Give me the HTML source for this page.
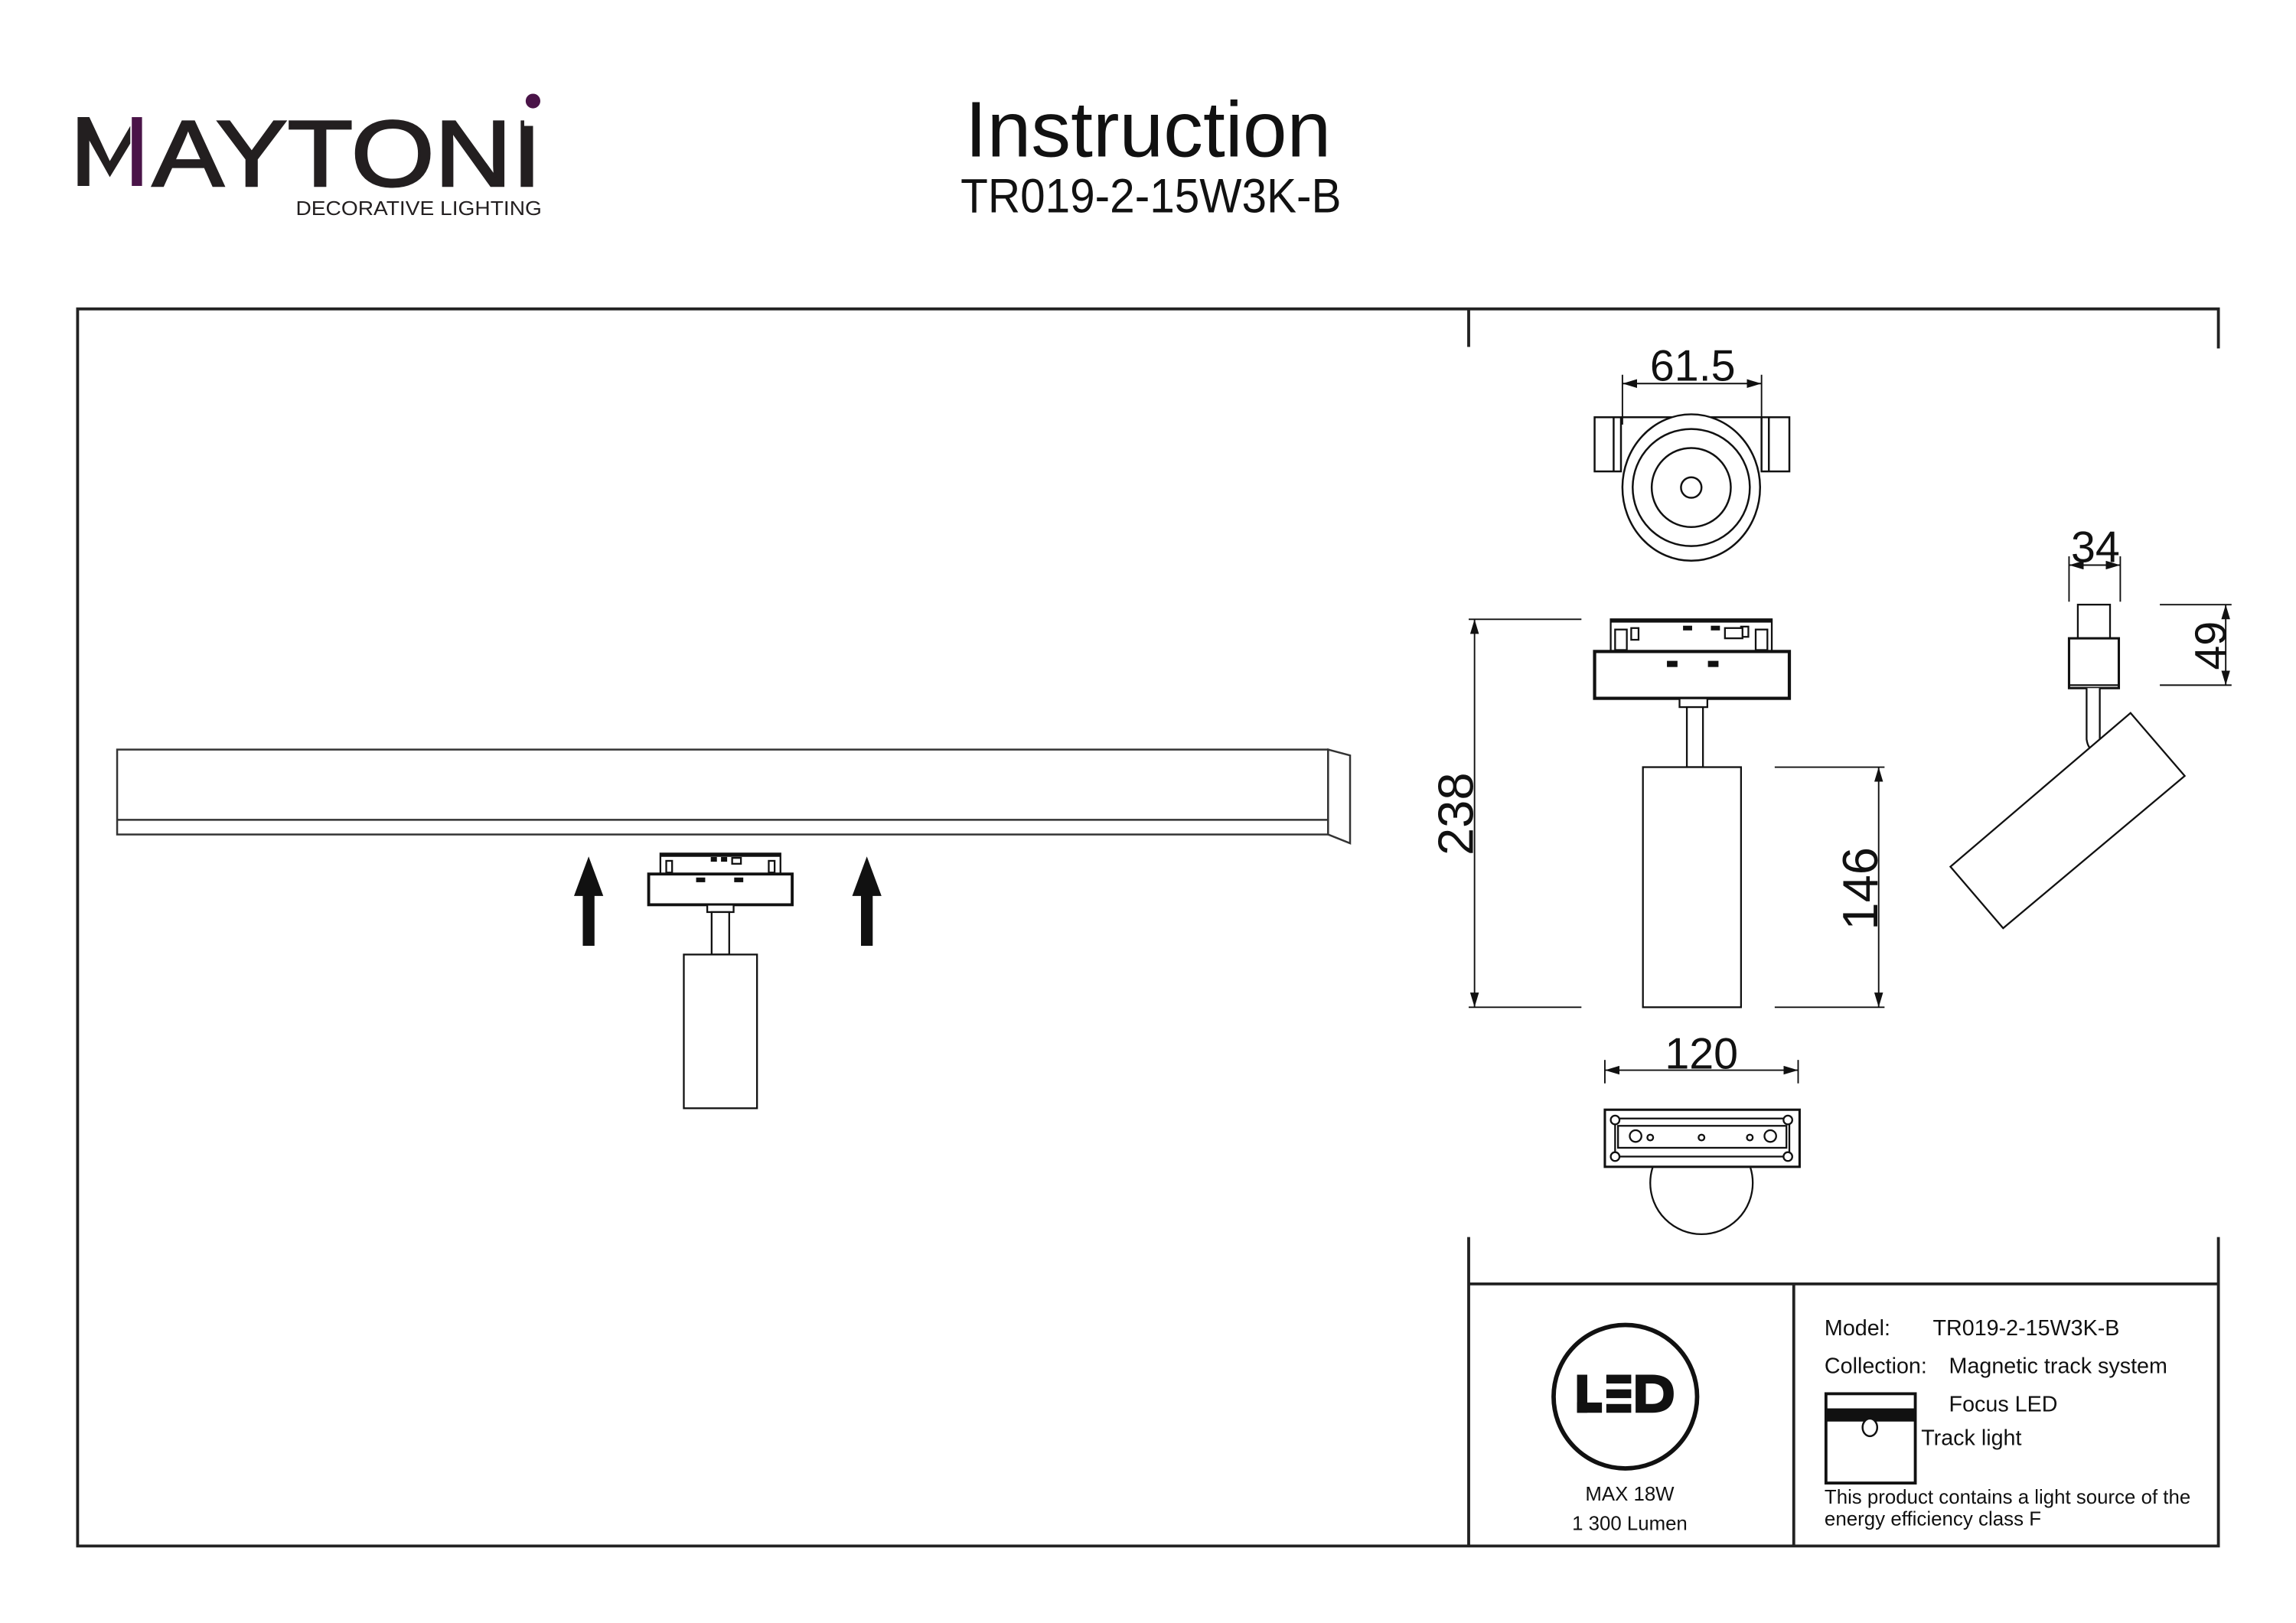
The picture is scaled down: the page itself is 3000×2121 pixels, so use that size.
<!DOCTYPE html>
<html><head><meta charset="utf-8"><style>
html,body{margin:0;padding:0;background:#fff;}
svg{display:block;}
text{font-family:"Liberation Sans",sans-serif;fill:#111;}
</style></head><body>
<svg width="3000" height="2121" viewBox="0 0 1568 1108.6" preserveAspectRatio="none" xmlns="http://www.w3.org/2000/svg">
<defs>
<marker id="ar" viewBox="0 0 10 6" refX="10" refY="3" markerWidth="10" markerHeight="6" orient="auto-start-reverse" markerUnits="userSpaceOnUse"><path d="M0,0 L10,3 L0,6 z" fill="#111"/></marker>
</defs>
<rect width="1568" height="1108.6" fill="#fff"/>
<!-- Logo -->
<polygon points="53,80 61,80 75,110 89,86 89,98 75,121 61,96 61,127 53,127" fill="#231f20"/>
<rect x="90" y="80" width="7" height="47" fill="#4a1448"/>
<text x="104" y="127" font-size="64" textLength="266" lengthAdjust="spacingAndGlyphs" style="fill:#231f20;stroke:#231f20;stroke-width:1.4">AYTONI</text>
<rect x="358" y="76" width="8" height="10" fill="#fff"/>
<circle cx="364" cy="69" r="5" fill="#4a1448"/>
<text x="202" y="147" font-size="13.5" textLength="168" lengthAdjust="spacingAndGlyphs" style="fill:#231f20">DECORATIVE LIGHTING</text>
<!-- Title -->
<text x="784" y="107" font-size="54" text-anchor="middle" textLength="250" lengthAdjust="spacingAndGlyphs">Instruction</text>
<text x="786" y="145" font-size="33" text-anchor="middle" textLength="260" lengthAdjust="spacingAndGlyphs">TR019-2-15W3K-B</text>
<!-- Frame -->
<g stroke="#222" stroke-width="2" fill="none">
<path d="M1515,238 V211 H53 V1056 H1515 V845"/>
<path d="M1003,211 V237 M1003,845 V1056 M1003,877 H1515 M1225,877 V1056"/>
</g>
<!-- Track -->
<g stroke="#333" stroke-width="1.3" fill="#fff">
<rect x="80" y="512" width="827" height="58"/>
<line x1="80" y1="560" x2="907" y2="560"/>
<polygon points="907,512 922,516 922,576 907,570"/>
</g>
<!-- Arrows -->
<g fill="#111">
<polygon points="402,585 392,612 398,612 398,646 406,646 406,612 412,612"/>
<polygon points="592,585 582,612 588,612 588,646 596,646 596,612 602,612"/>
</g>
<!-- Small lamp -->
<g stroke="#111" stroke-width="1.2" fill="#fff">
<rect x="451" y="583" width="82" height="14"/>
<line x1="451" y1="584" x2="533" y2="584" stroke-width="2.5"/>
<rect x="443" y="597" width="98" height="21" stroke-width="2"/>
<rect x="483" y="618" width="18" height="5"/>
<rect x="486" y="623" width="12" height="29"/>
<rect x="467" y="652" width="50" height="105"/>
<rect x="476" y="600" width="5" height="2" fill="#111"/><rect x="502" y="600" width="5" height="2" fill="#111"/>
<rect x="455" y="588" width="4" height="8"/><rect x="525" y="588" width="4" height="8"/>
<rect x="486" y="586" width="3" height="2" fill="#111"/><rect x="493" y="586" width="3" height="2" fill="#111"/><rect x="500" y="586" width="6" height="4"/>
</g>
<!-- Top view -->
<g stroke="#111" stroke-width="1.3" fill="#fff">
<rect x="1089" y="285" width="18" height="37"/><line x1="1102" y1="285" x2="1102" y2="322"/>
<rect x="1203" y="285" width="19" height="37"/><line x1="1208" y1="285" x2="1208" y2="322"/>
<line x1="1107" y1="285" x2="1203" y2="285"/>
<ellipse cx="1155" cy="333" rx="47" ry="50"/>
<circle cx="1155" cy="333" r="40"/>
<circle cx="1155" cy="333" r="27"/>
<circle cx="1155" cy="333" r="7"/>
</g>
<g stroke="#111" stroke-width="1" fill="none">
<line x1="1108" y1="256" x2="1108" y2="290"/><line x1="1203" y1="256" x2="1203" y2="290"/>
<line x1="1108" y1="262" x2="1203" y2="262" marker-start="url(#ar)" marker-end="url(#ar)"/>
</g>
<text x="1156" y="260" font-size="30" text-anchor="middle">61.5</text>
<!-- Front view -->
<g stroke="#111" stroke-width="1.2" fill="#fff">
<rect x="1100" y="423" width="110" height="22"/>
<line x1="1100" y1="424" x2="1210" y2="424" stroke-width="2.5"/>
<rect x="1089" y="445" width="133" height="32" stroke-width="2.2"/>
<rect x="1147" y="477" width="19" height="6"/>
<rect x="1152" y="483" width="11" height="41"/>
<rect x="1122" y="524" width="67" height="164"/>
<rect x="1103" y="430" width="8" height="14"/><rect x="1199" y="430" width="8" height="14"/>
<rect x="1114" y="429" width="5" height="8"/><rect x="1189" y="428" width="5" height="7"/>
<rect x="1150" y="428" width="5" height="2" fill="#111"/><rect x="1169" y="428" width="5" height="2" fill="#111"/><rect x="1178" y="429" width="12" height="7"/>
<rect x="1139" y="452" width="6" height="3" fill="#111"/><rect x="1167" y="452" width="6" height="3" fill="#111"/>
</g>
<g stroke="#111" stroke-width="1" fill="none">
<line x1="1003" y1="423" x2="1080" y2="423"/><line x1="1003" y1="688" x2="1080" y2="688"/>
<line x1="1007" y1="423" x2="1007" y2="688" marker-start="url(#ar)" marker-end="url(#ar)"/>
<line x1="1212" y1="524" x2="1287" y2="524"/><line x1="1212" y1="688" x2="1287" y2="688"/>
<line x1="1283" y1="524" x2="1283" y2="688" marker-start="url(#ar)" marker-end="url(#ar)"/>
</g>
<text transform="translate(1006,556) rotate(-90)" font-size="34" text-anchor="middle">238</text>
<text transform="translate(1282,607) rotate(-90)" font-size="34" text-anchor="middle">146</text>
<!-- Side view -->
<g stroke="#111" stroke-width="1.2" fill="#fff">
<rect x="1419" y="413" width="22" height="23"/>
<rect x="1413" y="436" width="34" height="34" stroke-width="1.6"/>
<line x1="1413" y1="468" x2="1447" y2="468"/>
<path d="M1425,470 V505 Q1426,512 1430,512 H1434 V470"/>
<polygon points="1332,592 1368,634 1492,530 1455,487"/>
</g>
<g stroke="#111" stroke-width="1" fill="none">
<line x1="1413" y1="380" x2="1413" y2="411"/><line x1="1448" y1="380" x2="1448" y2="411"/>
<line x1="1413" y1="386" x2="1448" y2="386" marker-start="url(#ar)" marker-end="url(#ar)"/>
<line x1="1475" y1="413" x2="1524" y2="413"/><line x1="1475" y1="468" x2="1524" y2="468"/>
<line x1="1520" y1="413" x2="1520" y2="468" marker-start="url(#ar)" marker-end="url(#ar)"/>
</g>
<text x="1431" y="384" font-size="30" text-anchor="middle">34</text>
<text transform="translate(1520,441) rotate(-90)" font-size="30" text-anchor="middle">49</text>
<!-- Bottom view -->
<g stroke="#111" stroke-width="1.2" fill="#fff">
<circle cx="1162" cy="808" r="35"/>
<rect x="1096" y="758" width="133" height="39" stroke-width="1.6"/>
<rect x="1103" y="764" width="119" height="26"/>
<rect x="1105" y="769" width="115" height="15"/>
<circle cx="1103" cy="765" r="3"/><circle cx="1221" cy="765" r="3"/><circle cx="1103" cy="790" r="3"/><circle cx="1221" cy="790" r="3"/>
<circle cx="1117" cy="776" r="4"/><circle cx="1209" cy="776" r="4"/>
<circle cx="1127" cy="777" r="2"/><circle cx="1162" cy="777" r="2"/><circle cx="1195" cy="777" r="2"/>
</g>
<g stroke="#111" stroke-width="1" fill="none">
<line x1="1096" y1="724" x2="1096" y2="740"/><line x1="1228" y1="724" x2="1228" y2="740"/>
<line x1="1096" y1="731" x2="1228" y2="731" marker-start="url(#ar)" marker-end="url(#ar)"/>
</g>
<text x="1162" y="730" font-size="30" text-anchor="middle">120</text>
<!-- LED block -->
<circle cx="1110" cy="954" r="49" fill="none" stroke="#111" stroke-width="3"/>
<g fill="#111">
<rect x="1077" y="939" width="7" height="26"/><rect x="1077" y="958" width="17" height="7"/>
<rect x="1097" y="939" width="17" height="6"/><rect x="1097" y="949" width="17" height="6"/><rect x="1097" y="959" width="17" height="6"/>
<path d="M1117,939 H1128 Q1143,939 1143,952 Q1143,965 1128,965 H1117 Z M1124,945 V959 H1128 Q1136,959 1136,952 Q1136,945 1128,945 Z" fill-rule="evenodd"/>
</g>
<text x="1113" y="1025" font-size="13.5" text-anchor="middle">MAX 18W</text>
<text x="1113" y="1045" font-size="13.5" text-anchor="middle">1 300 Lumen</text>
<!-- Info -->
<text x="1246" y="912" font-size="15">Model:</text>
<text x="1320" y="912" font-size="15">TR019-2-15W3K-B</text>
<text x="1246" y="938" font-size="15">Collection:</text>
<text x="1331" y="938" font-size="15">Magnetic track system</text>
<rect x="1247" y="952" width="61" height="61" fill="none" stroke="#111" stroke-width="2"/>
<rect x="1247" y="962" width="61" height="9" fill="#111"/>
<ellipse cx="1277" cy="975" rx="5" ry="6" fill="#fff" stroke="#111" stroke-width="1.3"/>
<text x="1331" y="964" font-size="15">Focus LED</text>
<text x="1312" y="987" font-size="15">Track light</text>
<text x="1246" y="1027" font-size="13.3" textLength="250" lengthAdjust="spacingAndGlyphs">This product contains a light source of the</text>
<text x="1246" y="1042" font-size="13.3" textLength="148" lengthAdjust="spacingAndGlyphs">energy efficiency class F</text>
</svg>
</body></html>
